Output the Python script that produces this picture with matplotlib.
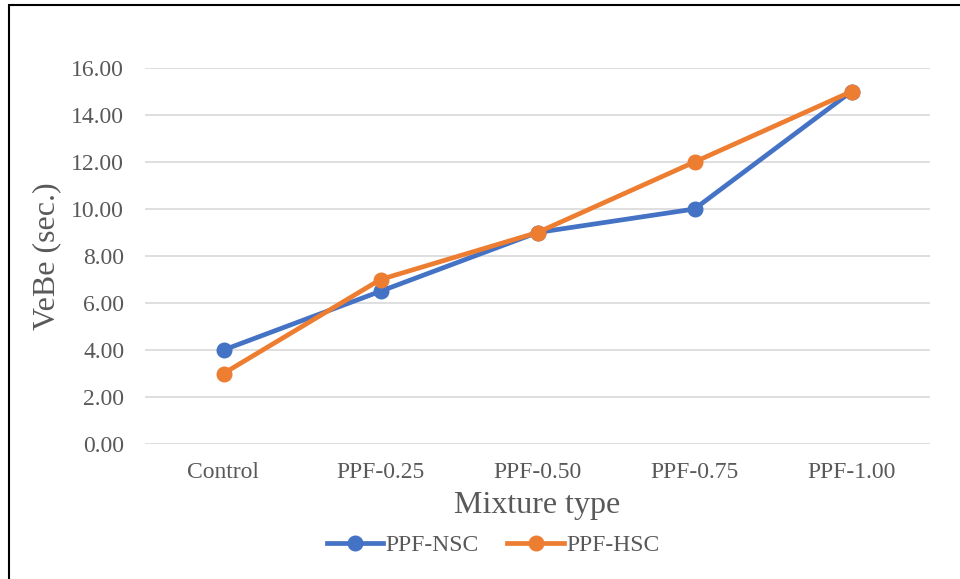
import matplotlib
matplotlib.use("Agg")
import matplotlib.pyplot as plt
from matplotlib.patches import Rectangle

categories = ["Control", "PPF-0.25", "PPF-0.50", "PPF-0.75", "PPF-1.00"]
nsc = [4.0, 6.5, 9.0, 10.0, 15.0]
hsc = [3.0, 7.0, 9.0, 12.0, 15.0]
yticks = [0, 2, 4, 6, 8, 10, 12, 14, 16]

plt.rcParams["font.family"] = ["Liberation Serif", "DejaVu Serif"]

fig = plt.figure(figsize=(9.6, 5.79), dpi=100)
ax = fig.add_axes([145 / 960, 1 - 444 / 579, 785 / 960, 376 / 579])

x = range(len(categories))
ax.plot(x, nsc, color="#4472C4", lw=3.4, marker="o", ms=10.5, label="PPF-NSC", zorder=3)
ax.plot(x, hsc, color="#ED7D31", lw=3.4, marker="o", ms=10.5, label="PPF-HSC", zorder=4)

ax.set_xlim(-0.5, len(categories) - 0.5)
ax.set_ylim(0, 16)
ax.set_yticks(yticks)
ax.set_yticklabels([f"{v:.2f}" for v in yticks])
ax.set_xticks(list(x))
ax.set_xticklabels(categories)
ax.grid(axis="y", color="#D9D9D9", lw=1.2)
ax.set_axisbelow(True)
for s in ax.spines.values():
    s.set_visible(False)
ax.tick_params(length=0, labelsize=17, colors="#595959", pad=13)
ax.tick_params(axis="y", pad=15)

ax.set_ylabel("VeBe (sec.)", fontsize=23, color="#595959", labelpad=7)
ax.set_xlabel("Mixture type", fontsize=23, color="#595959", labelpad=6)

leg = ax.legend(loc="center", bbox_to_anchor=(493 / 960, 1 - 545 / 579),
                bbox_transform=fig.transFigure, ncol=2, frameon=False,
                fontsize=17, handlelength=2.4, columnspacing=1.2, handletextpad=0.1)
for t in leg.get_texts():
    t.set_color("#595959")

fig.patches.append(Rectangle((9 / 960, -0.05), 1.2, 1 - 5 / 579 + 0.05,
                             transform=fig.transFigure, fill=False,
                             edgecolor="black", lw=1.5))

fig.savefig("out.png", dpi=100)
